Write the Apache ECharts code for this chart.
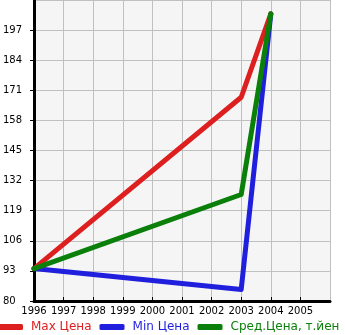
<!DOCTYPE html>
<html>
<head>
<meta charset="utf-8">
<script src="https://cdn.jsdelivr.net/npm/echarts@6/dist/echarts.min.js"></script>
<style>
  html, body { margin: 0; padding: 0; background: #ffffff; }
  #chart { width: 345px; height: 335px; }
</style>
</head>
<body>
<div id="chart"></div>
<script>
// Price history by model year (thousand yen)
const years = [1996, 2003, 2004];
const maxPrice = [94, 168, 204];
const minPrice = [94, 85, 204];
const avgPrice = [94, 126, 204];
const seriesNames = ['Max Цена', 'Min Цена', 'Сред.Цена, т.йен'];
const seriesColors = ['#dd1f1f', '#1f1fdd', '#0a800a'];

const toPoints = (vals) => years.map((y, i) => [y, vals[i]]);
const seriesValues = [maxPrice, minPrice, avgPrice];

const chart = echarts.init(document.getElementById('chart'), null, { renderer: 'canvas' });
chart.setOption({
  animation: false,
  backgroundColor: '#ffffff',
  textStyle: { fontFamily: 'DejaVu Sans' },
  grid: {
    left: 31, right: 15, top: 0, bottom: 34,
    show: true, backgroundColor: '#f5f5f5', borderWidth: 0
  },
  xAxis: {
    type: 'value', min: 1996, max: 2006, interval: 1,
    axisLine: { show: true, lineStyle: { color: '#000', width: 3 } },
    axisTick: { show: true, inside: true, length: 4, lineStyle: { color: '#000', width: 1 } },
    axisLabel: {
      color: '#000', fontSize: 10, margin: 5, showMaxLabel: false,
      formatter: (v) => String(v)
    },
    splitLine: { show: true, lineStyle: { color: '#c0c0c0', width: 1 } }
  },
  yAxis: {
    type: 'value', min: 80, max: 210, interval: 13,
    axisLine: { show: true, lineStyle: { color: '#000', width: 3 } },
    axisTick: { show: true, length: 4, lineStyle: { color: '#000', width: 1 } },
    axisLabel: {
      color: '#000', fontSize: 10, margin: 31, align: 'left',
      verticalAlign: 'middle', padding: [0, 0, 7, 0], showMaxLabel: false
    },
    splitLine: { show: true, lineStyle: { color: '#c0c0c0', width: 1 } }
  },
  legend: {
    left: -2, bottom: 2, width: 420, padding: 0,
    itemGap: 8, itemWidth: 25, itemHeight: 6,
    icon: 'roundRect',
    data: seriesNames.map((n, i) => ({
      name: n, textStyle: { color: seriesColors[i] }
    })),
    textStyle: { fontSize: 12, fontFamily: 'DejaVu Sans', padding: [0, 0, 0, 3] }
  },
  series: seriesNames.map((n, i) => ({
    name: n, type: 'line', data: toPoints(seriesValues[i]),
    color: seriesColors[i], showSymbol: false, symbol: 'none',
    lineStyle: { width: 5, color: seriesColors[i], cap: 'round', join: 'round' },
    z: i === 2 ? 3 : (i === 0 ? 2 : 1)
  }))
});
</script>
</body>
</html>
